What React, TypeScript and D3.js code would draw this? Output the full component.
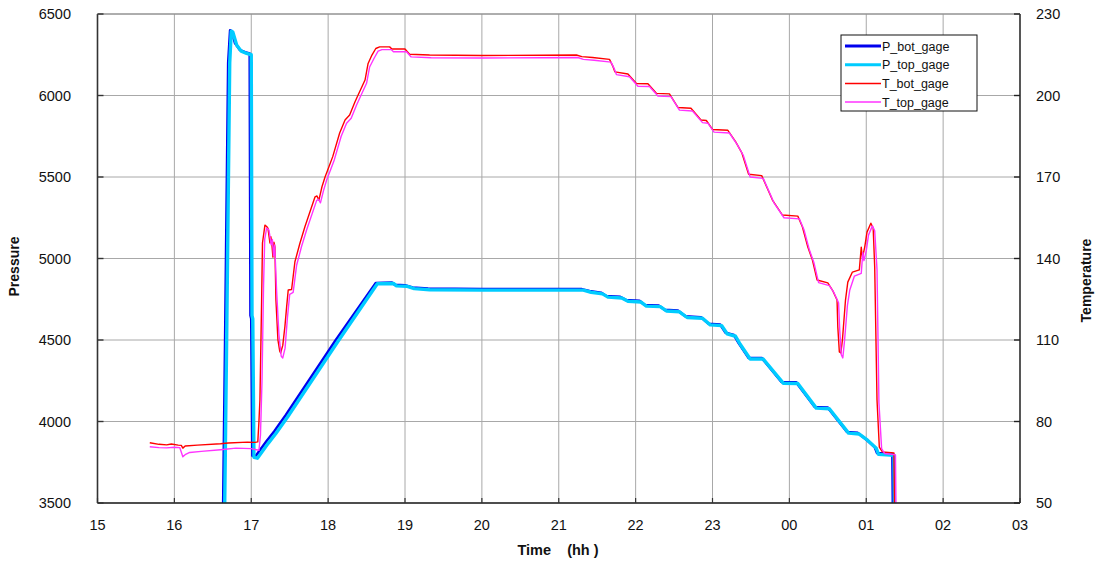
import React from "react";
import * as d3 from "d3";

type Pt = [number, number];

// time ticks (continuous hours, 24+ = next day)
const hourTicks = [15, 16, 17, 18, 19, 20, 21, 22, 23, 24, 25, 26, 27];
const hourLabels = ["15", "16", "17", "18", "19", "20", "21", "22", "23", "00", "01", "02", "03"];
const pressureTicks = [3500, 4000, 4500, 5000, 5500, 6000, 6500];
const tempTicks = [50, 80, 110, 140, 170, 200, 230];

const seriesNames = ["P_bot_gage", "P_top_gage", "T_bot_gage", "T_top_gage"];

const pBot: Pt[] = [
  [16.63, 3300], [16.66, 4500], [16.7, 6200], [16.725, 6400], [16.745, 6395], [16.79, 6320],
  [16.85, 6280], [16.92, 6265], [16.98, 6258], [16.99, 4650], [17.0, 4630], [17.015, 3790],
  [17.06, 3790], [17.2, 3880], [17.3, 3940], [17.45, 4040], [18.1, 4500], [18.62, 4850],
  [18.83, 4852], [18.87, 4838], [19.0, 4836], [19.1, 4822], [19.3, 4815], [20.0, 4812],
  [21.3, 4812], [21.4, 4800], [21.55, 4790], [21.62, 4770], [21.8, 4765], [21.88, 4745],
  [22.05, 4740], [22.12, 4715], [22.3, 4712], [22.38, 4685], [22.55, 4680], [22.65, 4645],
  [22.85, 4640], [22.95, 4600], [23.1, 4595], [23.17, 4545], [23.28, 4530], [23.34, 4481],
  [23.47, 4390], [23.64, 4390], [23.9, 4242], [24.09, 4240], [24.33, 4089], [24.5, 4085],
  [24.75, 3936], [24.89, 3930], [25.0, 3890], [25.11, 3843], [25.14, 3806], [25.34, 3800],
  [25.35, 3300],
];

const pTop: Pt[] = [
  [16.65, 3300], [16.68, 4500], [16.72, 6200], [16.74, 6395], [16.76, 6390], [16.81, 6310],
  [16.87, 6272], [16.94, 6258], [17.0, 6250], [17.01, 4650], [17.02, 4630], [17.035, 3780],
  [17.08, 3775], [17.22, 3866], [17.32, 3926], [17.47, 4026], [18.12, 4486], [18.64, 4845],
  [18.85, 4847], [18.89, 4832], [19.02, 4830], [19.12, 4815], [19.32, 4808], [20.0, 4806],
  [21.32, 4806], [21.42, 4793], [21.57, 4783], [21.64, 4763], [21.82, 4758], [21.9, 4738],
  [22.07, 4733], [22.14, 4708], [22.32, 4705], [22.4, 4678], [22.57, 4673], [22.67, 4638],
  [22.87, 4633], [22.97, 4593], [23.12, 4588], [23.19, 4538], [23.3, 4523], [23.36, 4474],
  [23.49, 4383], [23.66, 4383], [23.92, 4235], [24.11, 4233], [24.35, 4082], [24.52, 4078],
  [24.77, 3929], [24.91, 3923], [25.02, 3884], [25.13, 3836], [25.16, 3798], [25.36, 3793],
  [25.37, 3300],
];

const tBot: Pt[] = [
  [15.68, 72.2], [15.8, 71.6], [15.9, 71.4], [15.96, 71.7], [16.05, 71.3], [16.09, 71.2],
  [16.11, 70.2], [16.14, 71.0], [16.3, 71.3], [16.6, 71.8], [16.7, 72.1], [16.95, 72.4],
  [17.05, 72.3], [17.085, 72.5], [17.1, 80], [17.113, 88], [17.135, 124.7], [17.146, 145.7],
  [17.178, 152.3], [17.2, 151.8], [17.217, 151.2], [17.243, 145.7], [17.255, 148], [17.269, 145],
  [17.282, 140.5], [17.295, 146], [17.308, 144.2], [17.321, 124.7], [17.347, 110], [17.37, 106],
  [17.382, 105.2], [17.41, 108], [17.438, 115], [17.46, 122.1], [17.481, 128.4], [17.525, 128.6],
  [17.568, 138.8], [17.633, 145.6], [17.698, 151.7], [17.83, 162.7], [17.855, 163], [17.88, 161.5],
  [17.92, 166.4], [17.96, 170], [18.06, 177.5], [18.15, 186.2], [18.22, 191], [18.28, 192.8],
  [18.35, 197.7], [18.39, 200.2], [18.48, 205.7], [18.52, 211.8], [18.57, 214.9], [18.62, 217.3],
  [18.67, 217.9], [18.8, 217.9], [18.83, 217.1], [19.0, 217.1], [19.06, 215.2], [19.32, 214.9],
  [20.0, 214.7], [21.23, 214.9], [21.3, 214.3], [21.44, 214.0], [21.66, 213.3], [21.7, 211],
  [21.73, 208.7], [21.9, 207.9], [22.01, 204.4], [22.16, 204.3], [22.27, 200.8], [22.44, 200.6],
  [22.55, 195.6], [22.72, 195.3], [22.85, 191], [22.92, 190.8], [23.0, 187.5], [23.2, 187.2],
  [23.3, 183], [23.38, 179], [23.47, 171], [23.64, 170.5], [23.78, 161.5], [23.91, 156],
  [24.11, 155.6], [24.17, 151.6], [24.24, 144.2], [24.3, 139.4], [24.36, 132.1], [24.5, 131],
  [24.56, 128.4], [24.62, 124.7], [24.63, 114.8], [24.65, 105.6], [24.67, 105.2], [24.69, 110],
  [24.73, 124.7], [24.76, 131.3], [24.82, 135], [24.91, 135.8], [24.935, 144.2], [24.95, 140.2],
  [24.98, 144.2], [25.01, 149.7], [25.06, 153], [25.09, 151.2], [25.11, 136.9], [25.14, 87.9],
  [25.17, 70.6], [25.21, 68.8], [25.36, 68.4], [25.37, 40],
];

const tTop: Pt[] = [
  [15.68, 70.7], [15.8, 70.4], [15.9, 70.3], [16.0, 70.5], [16.07, 70.4], [16.11, 67.0],
  [16.14, 67.8], [16.2, 68.6], [16.35, 69.0], [16.6, 69.6], [16.8, 70.2], [17.0, 70.0],
  [17.1, 69.4], [17.12, 75], [17.14, 95], [17.16, 130], [17.175, 147], [17.2, 151.2],
  [17.23, 150.5], [17.26, 145], [17.275, 147], [17.29, 141], [17.305, 145], [17.33, 128],
  [17.36, 112], [17.39, 104], [17.41, 103.4], [17.44, 107], [17.47, 118], [17.5, 126.8],
  [17.545, 127.5], [17.59, 137.5], [17.655, 144.5], [17.72, 150.5], [17.85, 161.3], [17.875, 161.8],
  [17.9, 160.5], [17.94, 165], [17.98, 168.8], [18.08, 176.3], [18.17, 185], [18.24, 189.8],
  [18.3, 191.6], [18.37, 196.5], [18.41, 199], [18.5, 204.5], [18.54, 210.5], [18.6, 213.8],
  [18.65, 216.3], [18.7, 216.9], [18.82, 216.9], [18.85, 216.1], [19.02, 216.1], [19.08, 214.2],
  [19.34, 213.9], [20.0, 213.8], [21.25, 214.0], [21.32, 213.3], [21.46, 213.0], [21.68, 212.3],
  [21.72, 210], [21.75, 207.7], [21.92, 206.9], [22.03, 203.4], [22.18, 203.3], [22.29, 199.8],
  [22.46, 199.6], [22.57, 194.6], [22.74, 194.3], [22.87, 190], [22.94, 189.8], [23.02, 186.5],
  [23.22, 186.2], [23.32, 182], [23.4, 178], [23.49, 170], [23.66, 169.5], [23.8, 160.5],
  [23.93, 155], [24.13, 154.6], [24.19, 150.6], [24.26, 143.2], [24.32, 138.4], [24.38, 131.1],
  [24.52, 130], [24.58, 127.4], [24.64, 123.7], [24.655, 113.8], [24.675, 104.6], [24.695, 103.4],
  [24.715, 109], [24.755, 122.7], [24.785, 128.3], [24.845, 133.5], [24.935, 134.5], [24.955, 142.2],
  [24.97, 139.2], [25.0, 142.8], [25.03, 148.7], [25.08, 152], [25.11, 150.2], [25.14, 135.9],
  [25.165, 86.9], [25.2, 70.0], [25.24, 68.2], [25.38, 67.7], [25.39, 40],
];

const W = 1096;
const H = 562;
const L = 97.5;
const R = 1020;
const T = 14;
const B = 503;
const FONT = "'Liberation Sans', Arial, sans-serif";

export default function App() {
  const x = d3.scaleLinear().domain([15, 27]).range([L, R]);
  const yP = d3.scaleLinear().domain([3500, 6500]).range([B, T]);
  const yT = d3.scaleLinear().domain([50, 230]).range([B, T]);
  const lineP = d3.line<Pt>().x((d) => x(d[0])).y((d) => yP(d[1]));
  const lineT = d3.line<Pt>().x((d) => x(d[0])).y((d) => yT(d[1]));

  const series = [
    { name: seriesNames[0], d: lineP(pBot), color: "#0000ee", w: 2.6 },
    { name: seriesNames[1], d: lineP(pTop), color: "#00ccff", w: 3.4 },
    { name: seriesNames[2], d: lineT(tBot), color: "#ff0000", w: 1.4 },
    { name: seriesNames[3], d: lineT(tTop), color: "#ff33ff", w: 1.4 },
  ];

  const grid = "#a8a8a8";
  const legendX = 841;
  const legendY = 35;

  return (
    <svg width={W} height={H} style={{ position: "absolute", left: 0, top: 0, display: "block", background: "#fff" }} fontFamily={FONT}>
      <defs>
        <clipPath id="plot">
          <rect x={L} y={T} width={R - L} height={B - T} />
        </clipPath>
      </defs>
      {/* grid */}
      {hourTicks.map((h) => (
        <line key={"vx" + h} x1={x(h)} x2={x(h)} y1={T} y2={B} stroke={grid} strokeWidth={1} />
      ))}
      {pressureTicks.map((p) => (
        <line key={"hy" + p} x1={L} x2={R} y1={yP(p)} y2={yP(p)} stroke={grid} strokeWidth={1} />
      ))}
      {/* series */}
      <g clipPath="url(#plot)">
        {series.map((s) => (
          <path key={s.name} d={s.d || ""} fill="none" stroke={s.color} strokeWidth={s.w} strokeLinejoin="round" />
        ))}
      </g>
      {/* axes */}
      <line x1={L} x2={L} y1={T} y2={B} stroke="#333" strokeWidth={1.6} />
      <line x1={R} x2={R} y1={T} y2={B} stroke="#222" strokeWidth={1.4} />
      <line x1={L} x2={R} y1={B} y2={B} stroke="#222" strokeWidth={1.4} />
      <line x1={L} x2={R} y1={T} y2={T} stroke="#888" strokeWidth={1} />
      {pressureTicks.map((p) => (
        <g key={"pt" + p}>
          <line x1={L} x2={L + 6} y1={yP(p)} y2={yP(p)} stroke="#333" strokeWidth={1.4} />
          <text x={71} y={yP(p)} dy="0.35em" textAnchor="end" fontSize={14.5} fill="#111">{p}</text>
        </g>
      ))}
      {tempTicks.map((t) => (
        <g key={"tt" + t}>
          <line x1={R - 6} x2={R} y1={yT(t)} y2={yT(t)} stroke="#222" strokeWidth={1.4} />
          <text x={1036} y={yT(t)} dy="0.35em" textAnchor="start" fontSize={14.5} fill="#111">{t}</text>
        </g>
      ))}
      {hourTicks.map((h, i) => (
        <g key={"xt" + h}>
          <line x1={x(h)} x2={x(h)} y1={B - 5} y2={B} stroke="#333" strokeWidth={1.2} />
          <text x={x(h)} y={525} dy="0.35em" textAnchor="middle" fontSize={14.5} fill="#111">{hourLabels[i]}</text>
        </g>
      ))}
      {/* axis titles */}
      <text transform={`translate(19,${(T + B) / 2 + 8}) rotate(-90)`} textAnchor="middle" fontSize={14} fontWeight="bold" fill="#111">Pressure</text>
      <text transform={`translate(1091,${(T + B) / 2 + 22}) rotate(-90)`} textAnchor="middle" fontSize={14} fontWeight="bold" fill="#111">Temperature</text>
      <text x={558} y={555} textAnchor="middle" fontSize={14.5} fontWeight="bold" fill="#111" xmlSpace="preserve">{"Time    (hh )"}</text>
      {/* legend */}
      <rect x={legendX} y={legendY} width={136} height={76} fill="#fff" stroke="#111" strokeWidth={1} />
      {series.map((s, i) => {
        const ly = legendY + 11 + i * 18.7;
        return (
          <g key={"lg" + s.name}>
            <line x1={legendX + 4} x2={legendX + 40} y1={ly} y2={ly} stroke={s.color} strokeWidth={i < 2 ? 3 : 1.5} />
            <text x={legendX + 41} y={ly} dy="0.36em" fontSize={12.5} fill="#111">{s.name}</text>
          </g>
        );
      })}
    </svg>
  );
}
